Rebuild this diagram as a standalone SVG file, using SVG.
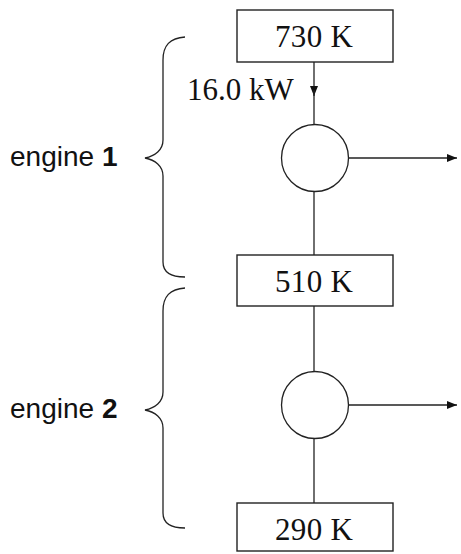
<svg xmlns="http://www.w3.org/2000/svg" width="461" height="554" viewBox="0 0 461 554">
<style>
.box{fill:#fff;stroke:#222;stroke-width:1.4}
.ln{fill:none;stroke:#222;stroke-width:1.3}
.t{font-family:"Liberation Serif",serif;font-size:31px;fill:#111}
.s{font-family:"Liberation Sans",sans-serif;font-size:28px;fill:#111}
</style>
<defs>
<marker id="ah" viewBox="0 0 10 10" refX="10" refY="5" markerWidth="10" markerHeight="10" markerUnits="userSpaceOnUse" orient="auto">
<path d="M0,1 L10,5 L0,9 Z" fill="#111"/>
</marker>
</defs>
<rect width="461" height="554" fill="#fff"/>
<g id="connectors">
<line class="ln" x1="314" y1="62" x2="314" y2="96" marker-end="url(#ah)"/>
<line class="ln" x1="314" y1="90" x2="314" y2="125"/>
<line class="ln" x1="314" y1="192" x2="314" y2="255"/>
<line class="ln" x1="314" y1="306" x2="314" y2="372"/>
<line class="ln" x1="314" y1="438" x2="314" y2="503"/>
<line class="ln" x1="349" y1="158" x2="457" y2="158" marker-end="url(#ah)"/>
<line class="ln" x1="349" y1="405" x2="457" y2="405" marker-end="url(#ah)"/>
</g>
<g id="hot">
<rect class="box" x="237" y="10" width="156" height="52"/>
<text class="t" x="314" y="47" text-anchor="middle" textLength="78" lengthAdjust="spacing">730 K</text>
</g>
<g id="flow-label">
<text class="t" x="187" y="100">16.0 kW</text>
</g>
<g id="engine1-circle">
<circle class="ln" cx="315" cy="158" r="33.5"/>
</g>
<g id="mid">
<rect class="box" x="237" y="255" width="156" height="51"/>
<text class="t" x="314" y="292" text-anchor="middle" textLength="78" lengthAdjust="spacing">510 K</text>
</g>
<g id="engine2-circle">
<circle class="ln" cx="315" cy="405" r="33.5"/>
</g>
<g id="cold">
<rect class="box" x="237" y="503" width="156" height="48"/>
<text class="t" x="314" y="540" text-anchor="middle" textLength="78" lengthAdjust="spacing">290 K</text>
</g>
<g id="brace1">
<path class="ln" d="M185,37 C170,38 163,45 163,60 L163,140 C163,150 155,156 145,158 C155,160 163,166 163,176 L163,262 C163,272 170,277 185,277"/>
<text class="s" x="10" y="166">engine <tspan font-weight="bold">1</tspan></text>
</g>
<g id="brace2">
<path class="ln" d="M185,288 C170,289 163,296 163,311 L163,392 C163,402 155,408 145,410 C155,412 163,418 163,428 L163,513 C163,523 170,528 185,528"/>
<text class="s" x="10" y="418">engine <tspan font-weight="bold">2</tspan></text>
</g>
</svg>
